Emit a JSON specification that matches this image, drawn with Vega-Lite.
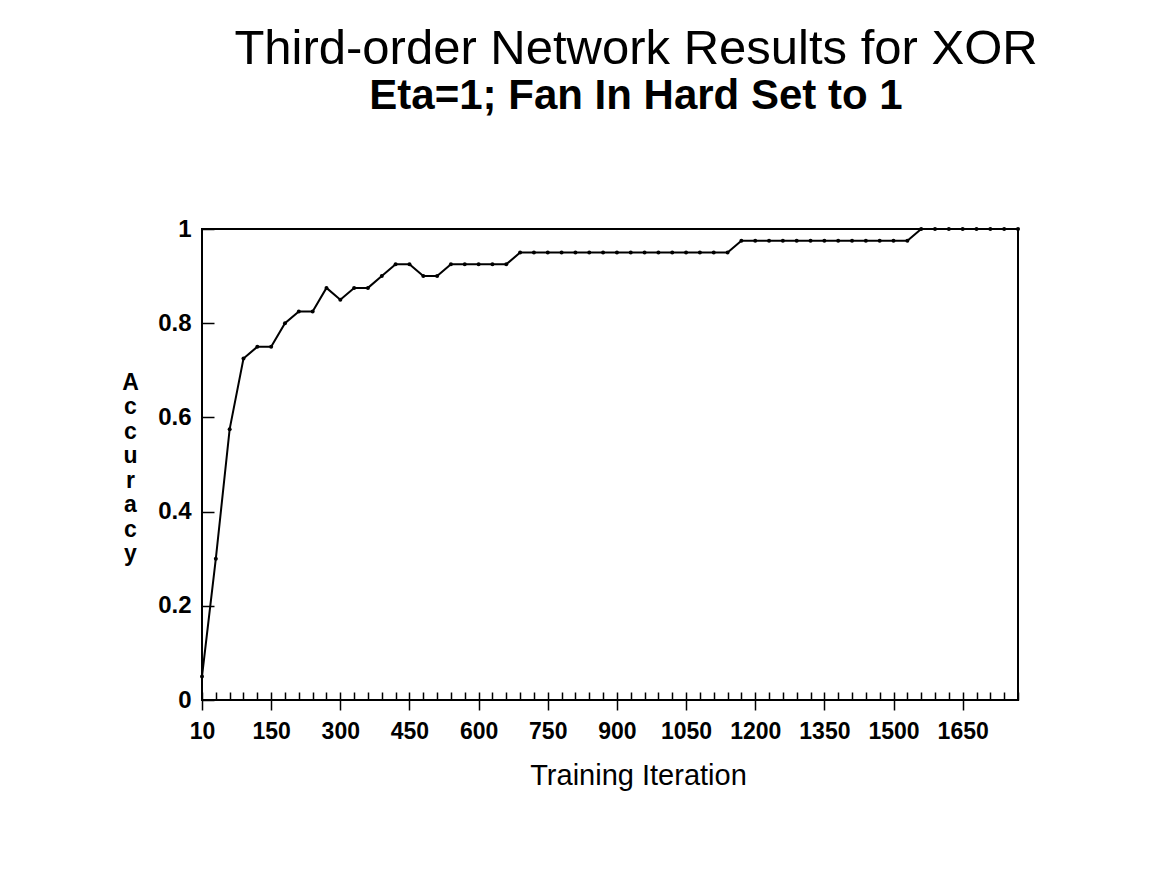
{
  "$schema": "https://vega.github.io/schema/vega-lite/v6.json",
  "width": 816,
  "height": 471,
  "autosize": {"type": "none"},
  "padding": {"left": 202, "top": 229, "right": 144, "bottom": 192},
  "background": "white",
  "title": {
    "text": "Third-order Network Results for XOR",
    "subtitle": "Eta=1; Fan In Hard Set to 1",
    "anchor": "middle",
    "frame": "group",
    "dx": 26,
    "offset": 100,
    "font": "Liberation Sans",
    "fontSize": 49,
    "fontWeight": "normal",
    "color": "black",
    "subtitleFont": "Liberation Sans",
    "subtitleFontSize": 42,
    "subtitleFontWeight": "bold",
    "subtitleColor": "black",
    "subtitlePadding": 2
  },
  "data": {
    "values": [
      {"iteration": 10, "accuracy": 0.05},
      {"iteration": 30, "accuracy": 0.3},
      {"iteration": 60, "accuracy": 0.575},
      {"iteration": 90, "accuracy": 0.725},
      {"iteration": 120, "accuracy": 0.75},
      {"iteration": 150, "accuracy": 0.75},
      {"iteration": 180, "accuracy": 0.8},
      {"iteration": 210, "accuracy": 0.825},
      {"iteration": 240, "accuracy": 0.825},
      {"iteration": 270, "accuracy": 0.875},
      {"iteration": 300, "accuracy": 0.85},
      {"iteration": 330, "accuracy": 0.875},
      {"iteration": 360, "accuracy": 0.875},
      {"iteration": 390, "accuracy": 0.9},
      {"iteration": 420, "accuracy": 0.925},
      {"iteration": 450, "accuracy": 0.925},
      {"iteration": 480, "accuracy": 0.9},
      {"iteration": 510, "accuracy": 0.9},
      {"iteration": 540, "accuracy": 0.925},
      {"iteration": 570, "accuracy": 0.925},
      {"iteration": 600, "accuracy": 0.925},
      {"iteration": 630, "accuracy": 0.925},
      {"iteration": 660, "accuracy": 0.925},
      {"iteration": 690, "accuracy": 0.95},
      {"iteration": 720, "accuracy": 0.95},
      {"iteration": 750, "accuracy": 0.95},
      {"iteration": 780, "accuracy": 0.95},
      {"iteration": 810, "accuracy": 0.95},
      {"iteration": 840, "accuracy": 0.95},
      {"iteration": 870, "accuracy": 0.95},
      {"iteration": 900, "accuracy": 0.95},
      {"iteration": 930, "accuracy": 0.95},
      {"iteration": 960, "accuracy": 0.95},
      {"iteration": 990, "accuracy": 0.95},
      {"iteration": 1020, "accuracy": 0.95},
      {"iteration": 1050, "accuracy": 0.95},
      {"iteration": 1080, "accuracy": 0.95},
      {"iteration": 1110, "accuracy": 0.95},
      {"iteration": 1140, "accuracy": 0.95},
      {"iteration": 1170, "accuracy": 0.975},
      {"iteration": 1200, "accuracy": 0.975},
      {"iteration": 1230, "accuracy": 0.975},
      {"iteration": 1260, "accuracy": 0.975},
      {"iteration": 1290, "accuracy": 0.975},
      {"iteration": 1320, "accuracy": 0.975},
      {"iteration": 1350, "accuracy": 0.975},
      {"iteration": 1380, "accuracy": 0.975},
      {"iteration": 1410, "accuracy": 0.975},
      {"iteration": 1440, "accuracy": 0.975},
      {"iteration": 1470, "accuracy": 0.975},
      {"iteration": 1500, "accuracy": 0.975},
      {"iteration": 1530, "accuracy": 0.975},
      {"iteration": 1560, "accuracy": 1},
      {"iteration": 1590, "accuracy": 1},
      {"iteration": 1620, "accuracy": 1},
      {"iteration": 1650, "accuracy": 1},
      {"iteration": 1680, "accuracy": 1},
      {"iteration": 1710, "accuracy": 1},
      {"iteration": 1740, "accuracy": 1},
      {"iteration": 1770, "accuracy": 1}
    ]
  },
  "layer": [
    {
      "mark": {"type": "line", "color": "black", "strokeWidth": 2, "point": {"filled": true, "color": "black", "size": 16}},
      "encoding": {
        "x": {
          "field": "iteration",
          "type": "ordinal",
          "scale": {"type": "point", "padding": 0},
          "axis": {
            "orient": "bottom",
            "labels": false,
            "domain": false,
            "grid": false,
            "ticks": true,
            "tickSize": -8,
            "tickWidth": 1.5,
            "tickColor": "black",
            "title": null
          }
        },
        "y": {
          "field": "accuracy",
          "type": "quantitative",
          "scale": {"domain": [0, 1], "nice": false, "zero": true},
          "axis": {
            "values": [0, 0.2, 0.4, 0.6, 0.8, 1],
            "format": "~g",
            "grid": false,
            "domain": false,
            "tickSize": -12,
            "tickWidth": 1.5,
            "tickColor": "black",
            "labelPadding": 23,
            "labelFont": "Liberation Sans",
            "labelFontSize": 24,
            "labelFontWeight": "bold",
            "labelColor": "black",
            "title": ["A", "c", "c", "u", "r", "a", "c", "y"],
            "titleAngle": 0,
            "titleAlign": "center",
            "titleBaseline": "middle",
            "titleX": -72,
            "titleY": 153,
            "titleLineHeight": 24.5,
            "titleFont": "Liberation Sans",
            "titleFontSize": 23,
            "titleFontWeight": "bold",
            "titleColor": "black"
          }
        }
      }
    },
    {
      "mark": {"type": "point", "opacity": 0},
      "encoding": {
        "x": {
          "field": "iteration",
          "type": "ordinal",
          "axis": {
            "orient": "bottom",
            "values": [10, 150, 300, 450, 600, 750, 900, 1050, 1200, 1350, 1500, 1650],
            "domain": false,
            "grid": false,
            "tickSize": 10,
            "tickWidth": 1.5,
            "tickColor": "black",
            "labelAngle": 0,
            "labelPadding": 10,
            "labelOverlap": false,
            "labelFlush": false,
            "labelFont": "Liberation Sans",
            "labelFontSize": 23,
            "labelFontWeight": "bold",
            "labelColor": "black",
            "title": "Training Iteration",
            "titleX": 436,
            "titleY": 84,
            "titleBaseline": "alphabetic",
            "titleAlign": "center",
            "titleFont": "Liberation Sans",
            "titleFontSize": 29,
            "titleFontWeight": "normal",
            "titleColor": "black"
          }
        },
        "y": {"field": "accuracy", "type": "quantitative"}
      }
    }
  ],
  "resolve": {"axis": {"x": "independent"}},
  "config": {
    "view": {"stroke": "black", "strokeWidth": 2}
  }
}
